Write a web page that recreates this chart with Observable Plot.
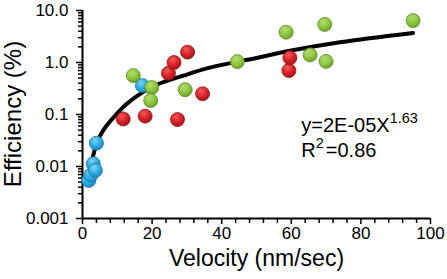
<!DOCTYPE html>
<html><head><meta charset="utf-8">
<script src="https://cdn.jsdelivr.net/npm/d3@7"></script>
<script src="https://cdn.jsdelivr.net/npm/@observablehq/plot@0.6"></script>
<style>
body{margin:0;background:#fff}
svg{font-family:"Liberation Sans",Arial,sans-serif}
</style>
</head><body><div id="chart"></div>
<script>
// Data
const blueVelocity   = [1.8, 2.4, 3.1, 3.7, 4.0, 17.2];
const blueEfficiency = [0.0054, 0.0068, 0.0113, 0.0084, 0.028, 0.36];
const greenVelocity   = [14.6, 19.9, 19.6, 29.5, 44.5, 58.5, 65.4, 69.6, 70.0, 95.0];
const greenEfficiency = [0.56, 0.33, 0.186, 0.30, 1.04, 3.83, 1.4, 5.4, 1.05, 6.4];
const redVelocity   = [11.7, 18.0, 24.7, 26.3, 27.3, 30.2, 34.5, 59.3, 59.6];
const redEfficiency = [0.082, 0.093, 0.62, 1.0, 0.080, 1.58, 0.25, 0.70, 1.23];
// power-law fit curve
const fitVelocity   = [1.3, 2.0, 3.0, 4.2, 5.5, 7.0, 9.0, 12.5, 17, 22, 29, 36, 44, 50, 60, 74, 95];
const fitEfficiency = [0.0045, 0.0085, 0.0155, 0.030, 0.044, 0.062, 0.089, 0.155, 0.26, 0.39, 0.56, 0.78, 1.02, 1.22, 1.70, 2.45, 3.70];

const xMajorTicks = [0, 20, 40, 60, 80, 100];
const xMinorTicks = [4, 8, 12, 16, 24, 28, 32, 36, 44, 48, 52, 56, 64, 68, 72, 76, 84, 88, 92, 96];
const yMajorTicks = [0.001, 0.01, 0.1, 1, 10];
const yTickLabels = ["0.001", "0.01", "0.1", "1.0", "10.0"];
const yMinorTicks = [];
for (const d of [0.001, 0.01, 0.1, 1]) for (let k = 2; k <= 9; k++) yMinorTicks.push(+(d * k).toPrecision(3));

const xLabel = "Velocity (nm/sec)";
const yLabel = "Efficiency (%)";
const eqAt = {v: 63, e: 0.045};
const r2At = {v: 63, e: 0.0149};

const pts = (vs, es) => vs.map((v, i) => ({v, e: es[i]}));
const blue = pts(blueVelocity, blueEfficiency);
const green = pts(greenVelocity, greenEfficiency);
const red = pts(redVelocity, redEfficiency);
const fit = pts(fitVelocity, fitEfficiency);

// glossy ball gradients
const gradients = [
  {id: "gBlue",  hi: "#7fd3f5", mid: "#2aa9e0", lo: "#1784bd"},
  {id: "gGreen", hi: "#b5dc72", mid: "#8cc63f", lo: "#679a2a"},
  {id: "gRed",   hi: "#f05a5a", mid: "#d71f26", lo: "#a01318"}
];
const defsMark = () => {
  const defs = d3.create("svg:defs");
  for (const g of gradients) {
    const rg = defs.append("radialGradient").attr("id", g.id)
      .attr("cx", "40%").attr("cy", "30%").attr("r", "75%");
    rg.append("stop").attr("offset", "0%").attr("stop-color", g.hi);
    rg.append("stop").attr("offset", "55%").attr("stop-color", g.mid);
    rg.append("stop").attr("offset", "100%").attr("stop-color", g.lo);
  }
  return defs.node();
};

const chart = Plot.plot({
  width: 447, height: 279,
  marginLeft: 82, marginRight: 17, marginTop: 10, marginBottom: 61,
  style: {fontFamily: '"Liberation Sans", Arial, sans-serif', fontSize: "17px", color: "#000", background: "#fff"},
  x: {domain: [0, 100]},
  y: {type: "log", domain: [0.001, 10]},
  marks: [
    defsMark,
    Plot.axisX(xMinorTicks, {tickSize: 5, strokeWidth: 1.5, tickFormat: () => "", label: null}),
    Plot.axisX(xMajorTicks, {tickSize: 6, strokeWidth: 1.5, tickPadding: 2, tickFormat: d => String(d), label: null, fontSize: 17}),
    Plot.axisY(yMinorTicks, {tickSize: 4, strokeWidth: 1.5, tickFormat: () => "", label: null}),
    Plot.axisY(yMajorTicks, {tickSize: 6, strokeWidth: 1.5, tickPadding: 8, tickFormat: d => yTickLabels[yMajorTicks.indexOf(d)], label: null, fontSize: 17}),
    Plot.ruleX([0], {strokeWidth: 2}),
    Plot.ruleY([0.001], {strokeWidth: 2}),
    Plot.line(fit, {x: "v", y: "e", stroke: "#000", strokeWidth: 4, curve: "catmull-rom"}),
    Plot.dot(red, {x: "v", y: "e", r: 7, fill: "url(#gRed)", stroke: "#8e1a1c", strokeWidth: 0.8}),
    Plot.dot(blue, {x: "v", y: "e", r: 7, fill: "url(#gBlue)", stroke: "#1a78a8", strokeWidth: 0.8}),
    Plot.dot(green, {x: "v", y: "e", r: 7, fill: "url(#gGreen)", stroke: "#5a8a26", strokeWidth: 0.8}),
    Plot.text([xLabel], {frameAnchor: "bottom", dy: 40, fontSize: 23, lineAnchor: "middle"})
  ]
});
document.getElementById("chart").appendChild(chart);

const svg = d3.select(chart);
const xs = chart.scale("x"), ys = chart.scale("y");
// y axis title
const yMid = (ys.range[0] + ys.range[1]) / 2;
svg.append("text")
  .attr("transform", `translate(${xs.range[0] - 61},${yMid}) rotate(-90)`)
  .attr("text-anchor", "middle").attr("font-size", 24).attr("fill", "#000")
  .text(yLabel);
// equation annotation with superscripts
const eq = svg.append("text").attr("x", xs.apply(eqAt.v)).attr("y", ys.apply(eqAt.e))
  .attr("text-anchor", "start").attr("font-size", 20).attr("fill", "#000");
eq.append("tspan").text("y=2E-05X");
eq.append("tspan").attr("dy", -9).attr("font-size", 14.5).text("1.63");
const r2 = svg.append("text").attr("x", xs.apply(r2At.v)).attr("y", ys.apply(r2At.e))
  .attr("text-anchor", "start").attr("font-size", 20).attr("fill", "#000");
r2.append("tspan").text("R");
r2.append("tspan").attr("dy", -9).attr("font-size", 14.5).text("2");
r2.append("tspan").attr("dy", 9).attr("dx", 2).text("=0.86");
</script>
</body></html>
